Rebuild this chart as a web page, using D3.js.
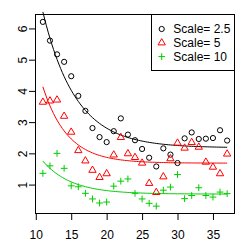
<!DOCTYPE html>
<html>
<head>
<meta charset="utf-8">
<script src="https://cdn.jsdelivr.net/npm/d3@7/dist/d3.min.js"></script>
<style>
	body { margin: 0; background: #fff; }
	text { font-family: "Liberation Sans", Arial, sans-serif; font-size: 12px; fill: #000; }
</style>
</head>
<body>
<div id="svg-container"></div>
<script>
var xValues = [11,12,13,14,15,16,17,18,19,20,21,22,23,24,25,26,27,28,29,30,31,32,33,34,35,36,37];
var scale25 = [6.21,5.61,5.17,4.93,4.47,3.84,3.36,2.81,2.52,2.36,2.71,3.12,2.60,2.42,2.14,1.86,1.58,2.16,1.96,1.69,2.48,2.67,2.46,2.47,2.49,2.74,2.41];
var scale5 = [3.64,3.68,3.71,3.19,2.68,2.09,1.76,1.46,1.23,1.35,1.95,2.51,1.99,1.87,1.69,1.04,0.75,1.25,1.83,2.33,2.17,2.35,2.20,1.72,1.56,1.35,1.98];
var scale10 = [1.36,1.60,2.00,1.52,0.96,0.93,0.72,0.54,0.41,0.44,0.95,1.11,1.18,0.72,0.54,0.40,0.31,0.82,0.92,1.32,0.55,0.65,0.90,0.65,0.60,0.76,0.71];
var legendLabels = ["Scale= 2.5", "Scale= 5", "Scale= 10"];
var xTicks = [10,15,20,25,30,35];
var yTicks = [1,2,3,4,5,6];

var seriesColors = ["#000000", "#FF0000", "#00CD00"],
	seriesShapes = ["circle", "triangle", "plus"],
	svg_width = 249,
	svg_height = 249,
	plot_left = 35.5,
	plot_right = 234.5,
	plot_top = 14.5,
	plot_bottom = 213.5;

var series = [scale25, scale5, scale10].map(function (ys, i) {
	return {
		label: legendLabels[i],
		color: seriesColors[i],
		shape: seriesShapes[i],
		points: ys.map(function (y, j) { return {x: xValues[j], y: y}; })
	};
});

// R style axis ranges: data extent padded by 4%
function padded(ext) {
	var d = (ext[1] - ext[0]) * 0.04;
	return [ext[0] - d, ext[1] + d];
}
var allY = scale25.concat(scale5, scale10);
var x = d3.scaleLinear().domain(padded(d3.extent(xValues))).range([plot_left, plot_right]);
var y = d3.scaleLinear().domain(padded(d3.extent(allY))).range([plot_bottom, plot_top]);

// least squares fit of y = a + b*exp(-c*x)
function fitExp(pts) {
	var best = null;
	for (var c = 0.01; c <= 1; c += 0.001) {
		var e = pts.map(function (p) { return Math.exp(-c * p.x); });
		var me = d3.mean(e), my = d3.mean(pts, function (p) { return p.y; });
		var sxy = d3.sum(e, function (v, i) { return (v - me) * (pts[i].y - my); });
		var sxx = d3.sum(e, function (v) { return (v - me) * (v - me); });
		var b = sxy / sxx, a = my - b * me;
		var sse = d3.sum(e, function (v, i) { var r = pts[i].y - a - b * v; return r * r; });
		if (!best || sse < best.sse) best = {a: a, b: b, c: c, sse: sse};
	}
	return best;
}

var svg = d3.select("#svg-container").append("svg")
	.attr("width", svg_width)
	.attr("height", svg_height);

// axes
var xAxis = svg.append("g")
	.attr("transform", "translate(0," + plot_bottom + ")")
	.call(d3.axisBottom(x).tickValues(xTicks).tickFormat(d3.format("d")).tickSize(6.5).tickPadding(10.5));
var yAxis = svg.append("g")
	.attr("transform", "translate(" + plot_left + ",0)")
	.call(d3.axisLeft(y).tickValues(yTicks).tickFormat(d3.format("d")).tickSize(6.5));
xAxis.select(".domain").remove();
yAxis.select(".domain").remove();
svg.selectAll(".tick line").attr("stroke", "#000");
svg.selectAll(".tick text").attr("font-size", 12).attr("font-family", null);
yAxis.selectAll(".tick text")
	.attr("text-anchor", "middle")
	.attr("transform", "rotate(-90)")
	.attr("x", 0)
	.attr("y", -9)
	.attr("dy", null);

svg.append("rect")
	.attr("x", plot_left).attr("y", plot_top)
	.attr("width", plot_right - plot_left).attr("height", plot_bottom - plot_top)
	.attr("fill", "none").attr("stroke", "#000");

// marker shapes
function shapePath(shape) {
	if (shape == "triangle") return "M0,-4.2L3.65,2.1L-3.65,2.1Z";
	if (shape == "plus") return "M-3.4,0H3.4M0,-3.4V3.4";
	return null;
}
function drawMarker(g, shape, color) {
	if (shape == "circle") {
		g.append("circle").attr("r", 2.6).attr("fill", "none").attr("stroke", color);
	} else {
		g.append("path").attr("d", shapePath(shape)).attr("fill", "none").attr("stroke", color);
	}
}

// fitted curves
var line = d3.line()
	.x(function (d) { return x(d.x); })
	.y(function (d) { return y(d.y); });
series.forEach(function (s) {
	var f = fitExp(s.points);
	var curve = d3.range(d3.min(xValues), d3.max(xValues) + 0.01, 0.25).map(function (v) {
		return {x: v, y: f.a + f.b * Math.exp(-f.c * v)};
	});
	svg.append("path")
		.datum(curve)
		.attr("d", line)
		.attr("fill", "none")
		.attr("stroke", s.color)
		.attr("stroke-width", 1);
});

// points
series.forEach(function (s) {
	svg.append("g").selectAll("g.pt")
		.data(s.points).enter().append("g")
		.attr("class", "pt")
		.attr("transform", function (d) { return "translate(" + x(d.x) + "," + y(d.y) + ")"; })
		.each(function () { drawMarker(d3.select(this), s.shape, s.color); });
});

// legend
var legend = svg.append("g");
legend.append("rect")
	.attr("x", 151.5).attr("y", plot_top)
	.attr("width", plot_right - 151.5).attr("height", 56)
	.attr("fill", "#fff").attr("stroke", "#000");
var rows = legend.selectAll("g.row")
	.data(series).enter().append("g")
	.attr("class", "row")
	.attr("transform", function (d, i) { return "translate(0," + (29 + i * 13.8) + ")"; });
rows.each(function (d) {
	var m = d3.select(this).append("g").attr("transform", "translate(161.7,0)");
	drawMarker(m, d.shape, d.color);
});
rows.append("text")
	.attr("x", 173.3)
	.attr("y", 4.3)
	.text(function (d) { return d.label; });
</script>
</body>
</html>
